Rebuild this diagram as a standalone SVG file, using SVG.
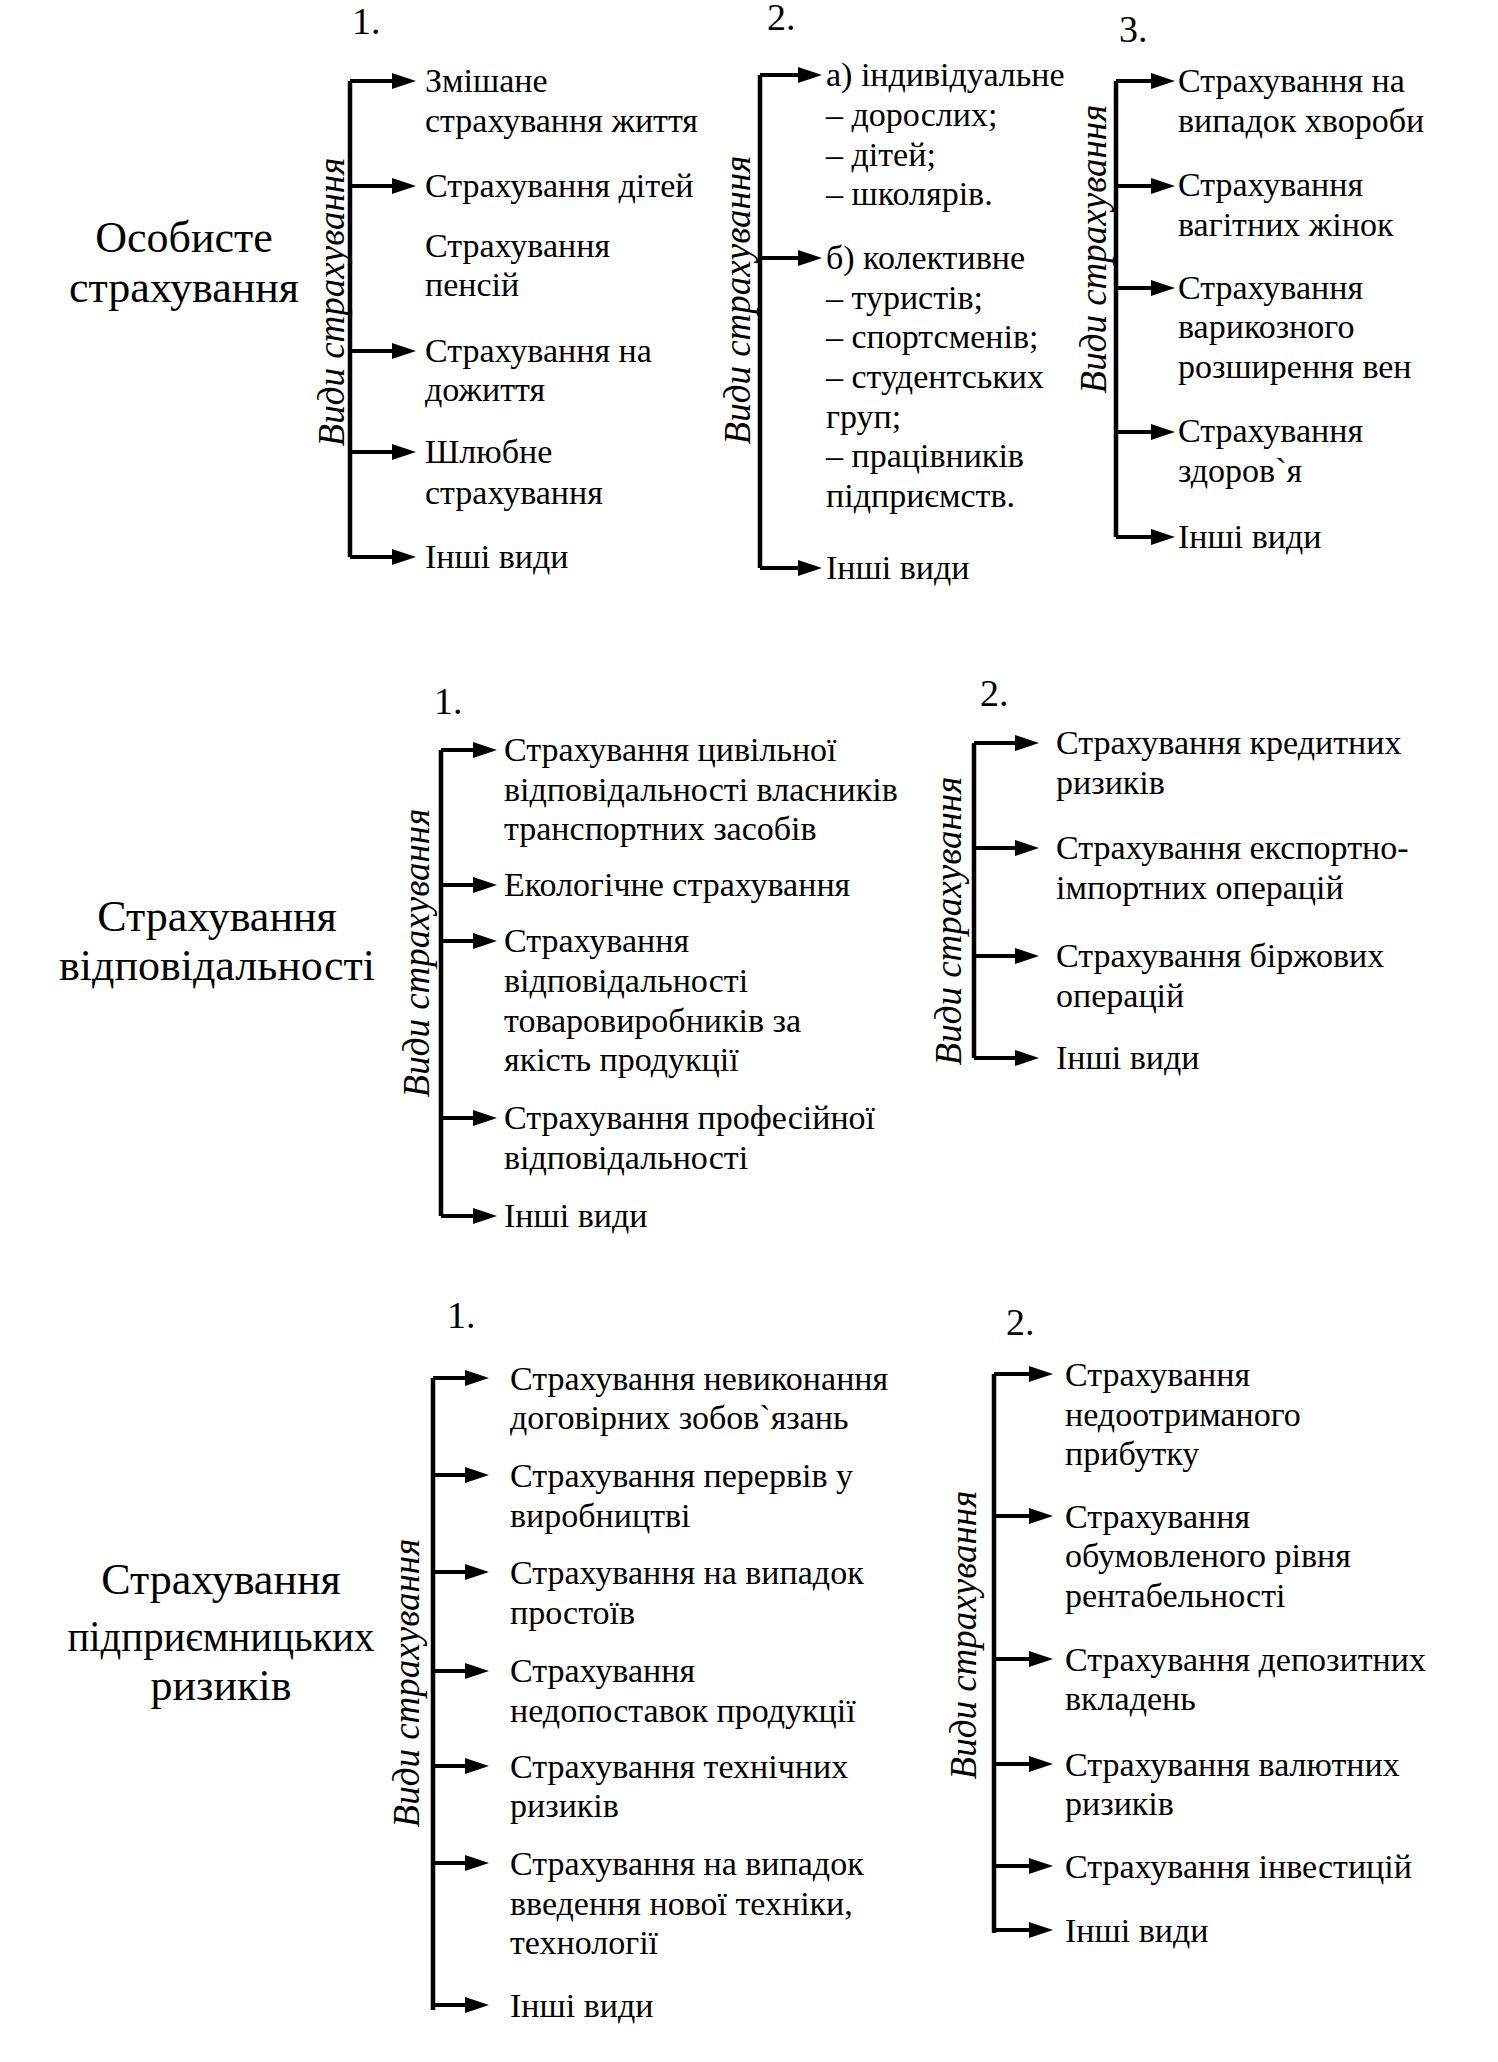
<svg xmlns="http://www.w3.org/2000/svg" width="1498" height="2062" viewBox="0 0 1498 2062">
<style>
text{font-family:"Liberation Serif","Times New Roman",serif;fill:#000}
.t{font-size:34px}
.num{font-size:38px}
.title{font-size:44px;text-anchor:middle}
.rot{font-size:37px;font-style:italic;text-anchor:middle}
.bar{stroke:#000;stroke-width:4.5;fill:none}
.br{stroke:#000;stroke-width:4;fill:none;marker-end:url(#ah)}
</style>
<defs>
<marker id="ah" markerUnits="userSpaceOnUse" markerWidth="24" markerHeight="16" refX="14" refY="8" orient="auto"><path d="M0,0 L24,8 L0,16 z" fill="#000"/></marker>
</defs>
<rect width="1498" height="2062" fill="#fff"/>

<g id="connectors">
<path class="bar" d="M350,81 V557"/>
<path class="br" d="M350,81 H406"/>
<path class="br" d="M350,186 H406"/>
<path class="br" d="M350,351 H406"/>
<path class="br" d="M350,452 H406"/>
<path class="br" d="M350,557 H406"/>

<path class="bar" d="M760,75 V568"/>
<path class="br" d="M760,75 H812"/>
<path class="br" d="M760,258 H812"/>
<path class="br" d="M760,568 H812"/>

<path class="bar" d="M1116,81 V537"/>
<path class="br" d="M1116,81 H1165"/>
<path class="br" d="M1116,186 H1165"/>
<path class="br" d="M1116,288 H1165"/>
<path class="br" d="M1116,432 H1165"/>
<path class="br" d="M1116,537 H1165"/>

<path class="bar" d="M441,750 V1216"/>
<path class="br" d="M441,750 H487"/>
<path class="br" d="M441,885 H487"/>
<path class="br" d="M441,941 H487"/>
<path class="br" d="M441,1118 H487"/>
<path class="br" d="M441,1216 H487"/>

<path class="bar" d="M974,743 V1058"/>
<path class="br" d="M974,743 H1029"/>
<path class="br" d="M974,848 H1029"/>
<path class="br" d="M974,956 H1029"/>
<path class="br" d="M974,1058 H1029"/>

<path class="bar" d="M433,1378 V2010"/>
<path class="br" d="M433,1378 H479"/>
<path class="br" d="M433,1475 H479"/>
<path class="br" d="M433,1572 H479"/>
<path class="br" d="M433,1671 H479"/>
<path class="br" d="M433,1766 H479"/>
<path class="br" d="M433,1863 H479"/>
<path class="br" d="M433,2005 H479"/>

<path class="bar" d="M994,1374 V1933"/>
<path class="br" d="M994,1374 H1043"/>
<path class="br" d="M994,1516 H1043"/>
<path class="br" d="M994,1659 H1043"/>
<path class="br" d="M994,1764 H1043"/>
<path class="br" d="M994,1866 H1043"/>
<path class="br" d="M994,1930 H1043"/>
</g>

<!-- SECTION 1 -->
<g id="title-personal"><text class="title" x="184" y="252">Особисте</text><text class="title" x="184" y="302">страхування</text></g>

<g id="s1c1-head"><text class="num" x="352" y="34">1.</text><text class="rot" transform="translate(344,302) rotate(-90)">Види страхування</text></g>
<g id="s1c1-i1"><text class="t" x="425" y="92">Змішане</text><text class="t" x="425" y="132">страхування життя</text></g>
<g id="s1c1-i2"><text class="t" x="425" y="197">Страхування дітей</text></g>
<g id="s1c1-i3"><text class="t" x="425" y="257">Страхування</text><text class="t" x="425" y="296">пенсій</text></g>
<g id="s1c1-i4"><text class="t" x="425" y="362">Страхування на</text><text class="t" x="425" y="401">дожиття</text></g>
<g id="s1c1-i5"><text class="t" x="425" y="463">Шлюбне</text><text class="t" x="425" y="504">страхування</text></g>
<g id="s1c1-i6"><text class="t" x="425" y="568">Інші види</text></g>

<g id="s1c2-head"><text class="num" x="767" y="30">2.</text><text class="rot" transform="translate(750,300) rotate(-90)">Види страхування</text></g>
<g id="s1c2-i1"><text class="t" x="826" y="86">а) індивідуальне</text><text class="t" x="826" y="126">– дорослих;</text><text class="t" x="826" y="166">– дітей;</text><text class="t" x="826" y="205">– школярів.</text></g>
<g id="s1c2-i2"><text class="t" x="826" y="269">б) колективне</text><text class="t" x="826" y="309">– туристів;</text><text class="t" x="826" y="348">– спортсменів;</text><text class="t" x="826" y="388">– студентських</text><text class="t" x="826" y="428">груп;</text><text class="t" x="826" y="467">– працівників</text><text class="t" x="826" y="507">підприємств.</text></g>
<g id="s1c2-i3"><text class="t" x="826" y="579">Інші види</text></g>

<g id="s1c3-head"><text class="num" x="1119" y="42">3.</text><text class="rot" transform="translate(1106,249) rotate(-90)">Види страхування</text></g>
<g id="s1c3-i1"><text class="t" x="1178" y="92">Страхування на</text><text class="t" x="1178" y="132">випадок хвороби</text></g>
<g id="s1c3-i2"><text class="t" x="1178" y="196">Страхування</text><text class="t" x="1178" y="236">вагітних жінок</text></g>
<g id="s1c3-i3"><text class="t" x="1178" y="299">Страхування</text><text class="t" x="1178" y="338">варикозного</text><text class="t" x="1178" y="378">розширення вен</text></g>
<g id="s1c3-i4"><text class="t" x="1178" y="442">Страхування</text><text class="t" x="1178" y="482">здоров`я</text></g>
<g id="s1c3-i5"><text class="t" x="1178" y="548">Інші види</text></g>

<!-- SECTION 2 -->
<g id="title-liability"><text class="title" x="217" y="931">Страхування</text><text class="title" x="217" y="980">відповідальності</text></g>

<g id="s2c1-head"><text class="num" x="434" y="714">1.</text><text class="rot" transform="translate(429,953) rotate(-90)">Види страхування</text></g>
<g id="s2c1-i1"><text class="t" x="504" y="761">Страхування цивільної</text><text class="t" x="504" y="801">відповідальності власників</text><text class="t" x="504" y="840">транспортних засобів</text></g>
<g id="s2c1-i2"><text class="t" x="504" y="896">Екологічне страхування</text></g>
<g id="s2c1-i3"><text class="t" x="504" y="952">Страхування</text><text class="t" x="504" y="992">відповідальності</text><text class="t" x="504" y="1032">товаровиробників за</text><text class="t" x="504" y="1071">якість продукції</text></g>
<g id="s2c1-i4"><text class="t" x="504" y="1129">Страхування професійної</text><text class="t" x="504" y="1169">відповідальності</text></g>
<g id="s2c1-i5"><text class="t" x="504" y="1227">Інші види</text></g>

<g id="s2c2-head"><text class="num" x="980" y="706">2.</text><text class="rot" transform="translate(961,921) rotate(-90)">Види страхування</text></g>
<g id="s2c2-i1"><text class="t" x="1056" y="754">Страхування кредитних</text><text class="t" x="1056" y="794">ризиків</text></g>
<g id="s2c2-i2"><text class="t" x="1056" y="859">Страхування експортно-</text><text class="t" x="1056" y="899">імпортних операцій</text></g>
<g id="s2c2-i3"><text class="t" x="1056" y="967">Страхування біржових</text><text class="t" x="1056" y="1007">операцій</text></g>
<g id="s2c2-i4"><text class="t" x="1056" y="1069">Інші види</text></g>

<!-- SECTION 3 -->
<g id="title-business"><text class="title" x="221" y="1594">Страхування</text><text class="title" x="221" y="1651" textLength="307" lengthAdjust="spacingAndGlyphs">підприємницьких</text><text class="title" x="221" y="1700">ризиків</text></g>

<g id="s3c1-head"><text class="num" x="447" y="1328">1.</text><text class="rot" transform="translate(419,1683) rotate(-90)">Види страхування</text></g>
<g id="s3c1-i1"><text class="t" x="510" y="1390">Страхування невиконання</text><text class="t" x="510" y="1429">договірних зобов`язань</text></g>
<g id="s3c1-i2"><text class="t" x="510" y="1487">Страхування перервів у</text><text class="t" x="510" y="1527">виробництві</text></g>
<g id="s3c1-i3"><text class="t" x="510" y="1584">Страхування на випадок</text><text class="t" x="510" y="1624">простоїв</text></g>
<g id="s3c1-i4"><text class="t" x="510" y="1682">Страхування</text><text class="t" x="510" y="1722">недопоставок продукції</text></g>
<g id="s3c1-i5"><text class="t" x="510" y="1778">Страхування технічних</text><text class="t" x="510" y="1817">ризиків</text></g>
<g id="s3c1-i6"><text class="t" x="510" y="1875">Страхування на випадок</text><text class="t" x="510" y="1915">введення нової техніки,</text><text class="t" x="510" y="1954">технології</text></g>
<g id="s3c1-i7"><text class="t" x="510" y="2017">Інші види</text></g>

<g id="s3c2-head"><text class="num" x="1006" y="1335">2.</text><text class="rot" transform="translate(976,1635) rotate(-90)">Види страхування</text></g>
<g id="s3c2-i1"><text class="t" x="1065" y="1386">Страхування</text><text class="t" x="1065" y="1426">недоотриманого</text><text class="t" x="1065" y="1465">прибутку</text></g>
<g id="s3c2-i2"><text class="t" x="1065" y="1528">Страхування</text><text class="t" x="1065" y="1567">обумовленого рівня</text><text class="t" x="1065" y="1607">рентабельності</text></g>
<g id="s3c2-i3"><text class="t" x="1065" y="1671">Страхування депозитних</text><text class="t" x="1065" y="1710">вкладень</text></g>
<g id="s3c2-i4"><text class="t" x="1065" y="1776">Страхування валютних</text><text class="t" x="1065" y="1815">ризиків</text></g>
<g id="s3c2-i5"><text class="t" x="1065" y="1878">Страхування інвестицій</text></g>
<g id="s3c2-i6"><text class="t" x="1065" y="1942">Інші види</text></g>
</svg>
